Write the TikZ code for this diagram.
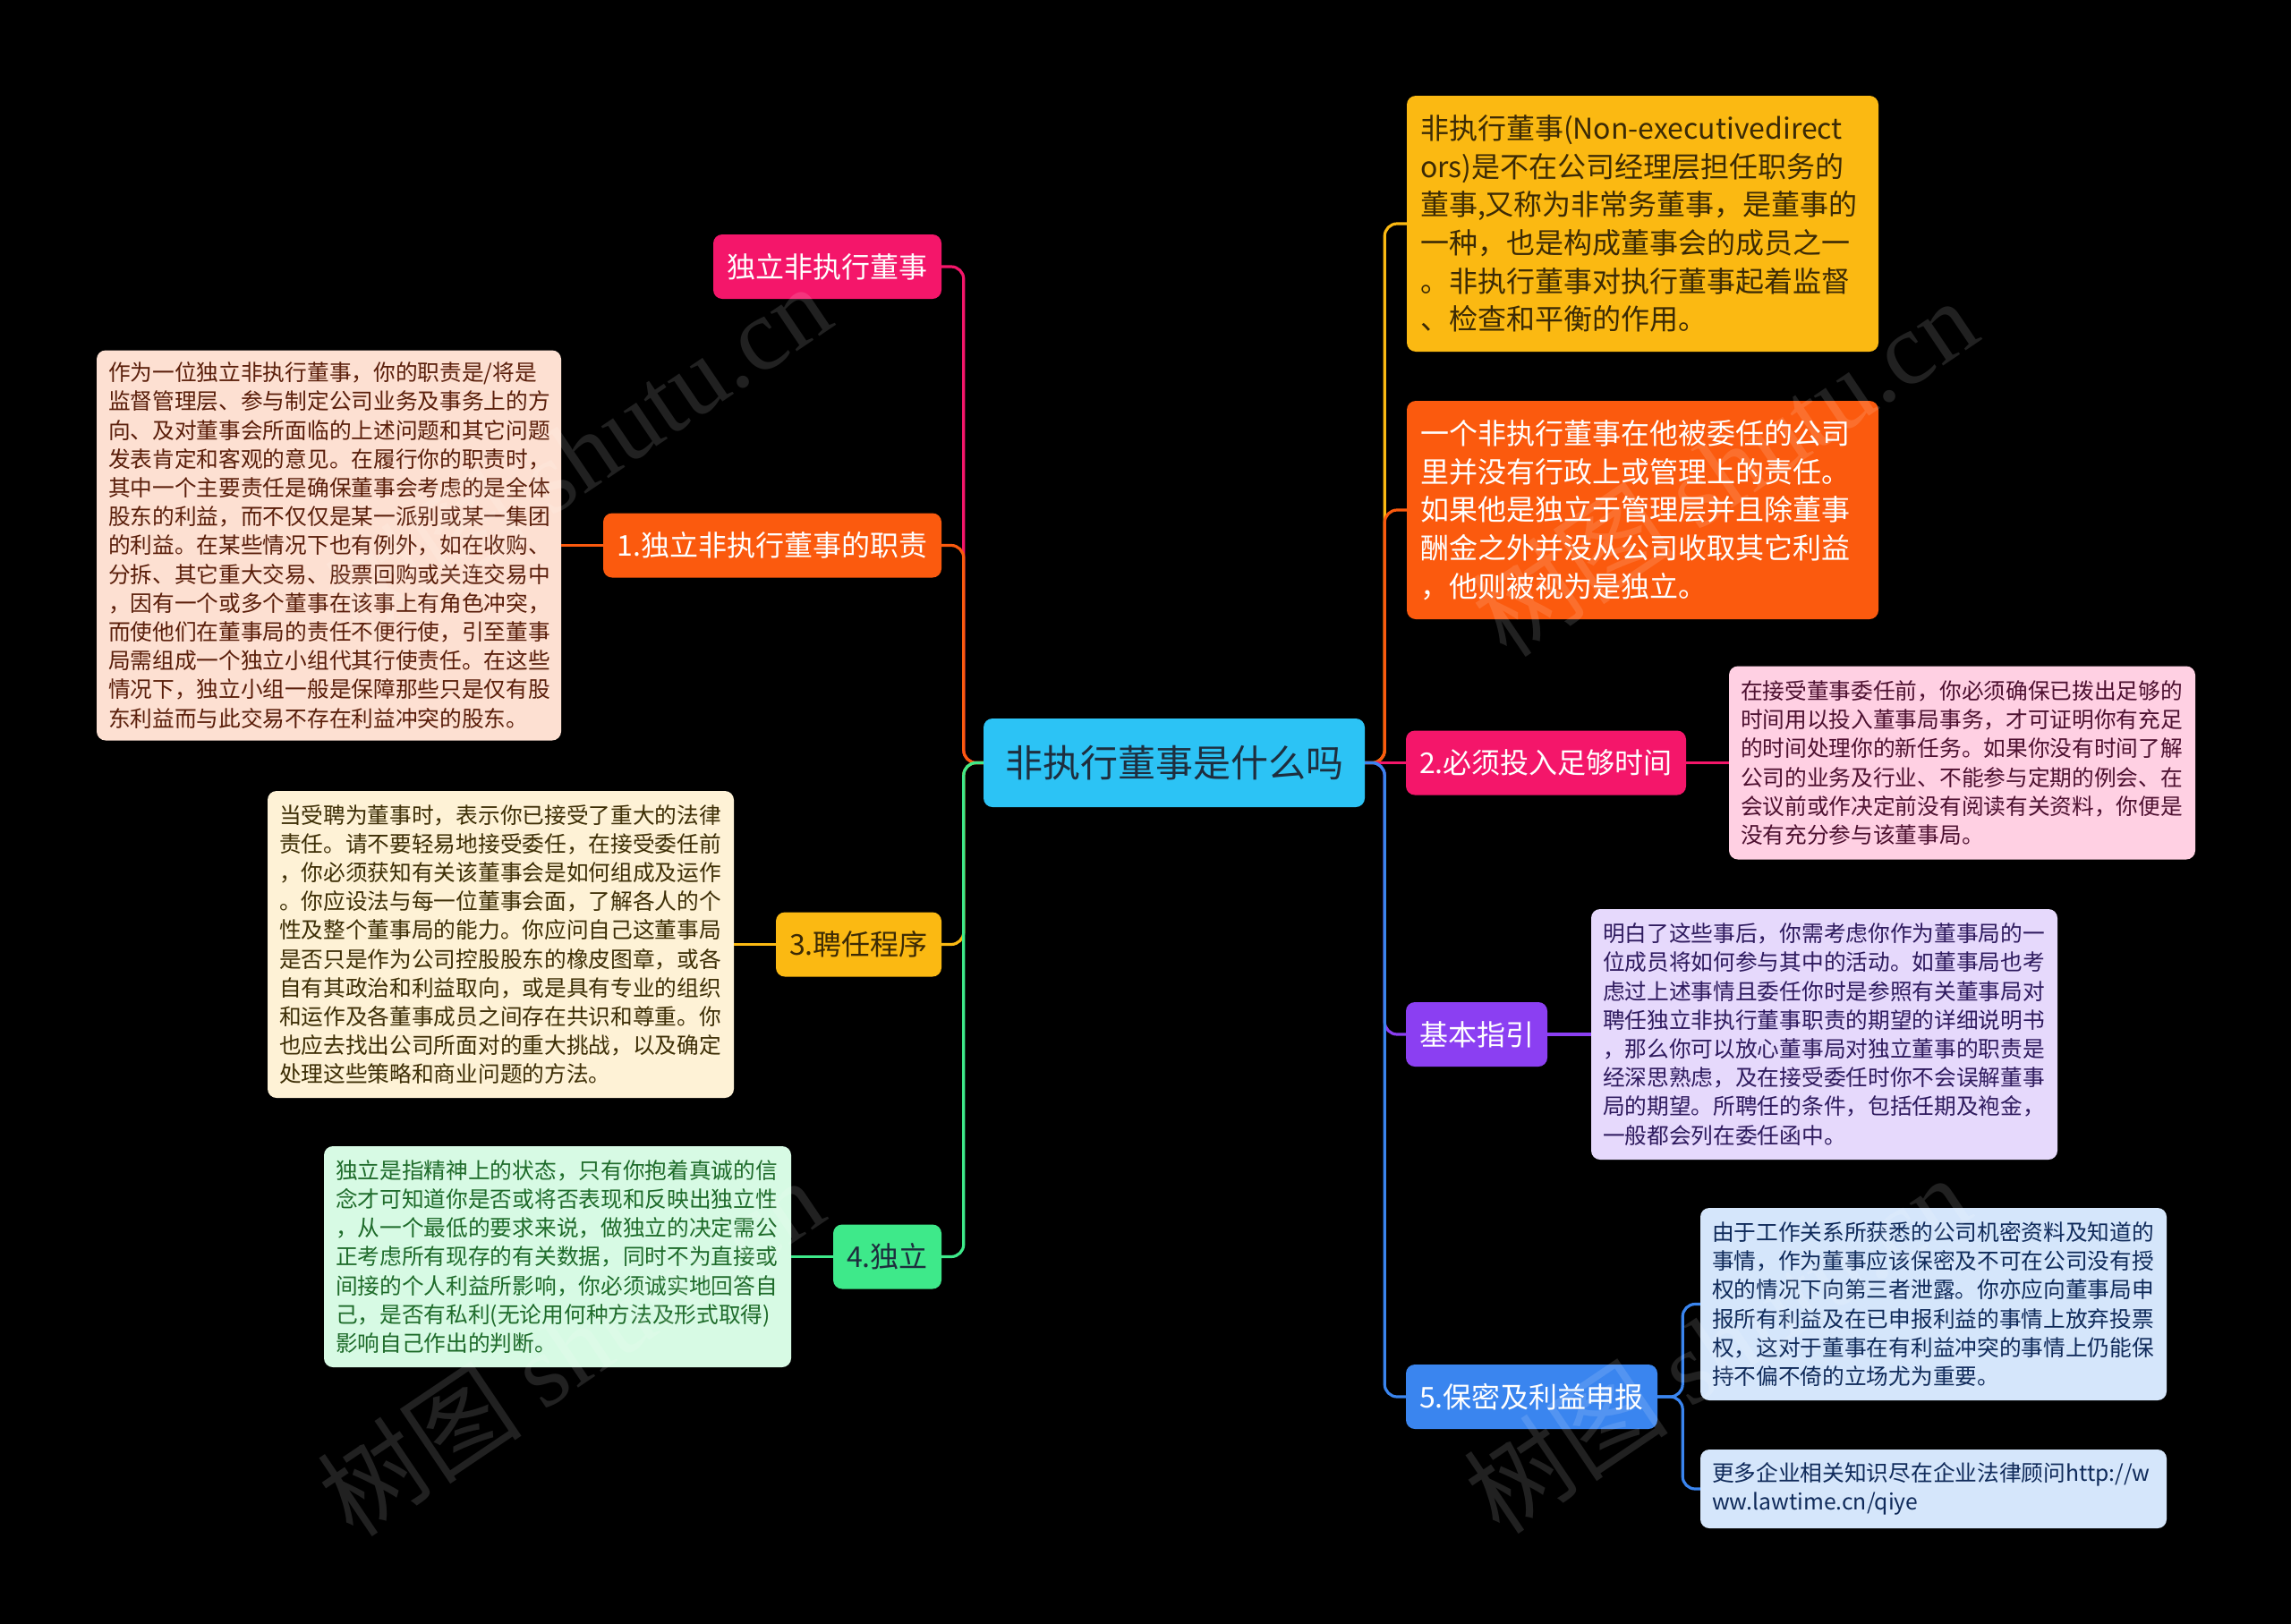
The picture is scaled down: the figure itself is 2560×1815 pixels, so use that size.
\documentclass[tikz,border=0pt]{standalone}
\usepackage{fontspec}
\setmainfont{Noto Sans CJK SC}
\newfontfamily\wmserif{Liberation Serif}
\newfontfamily\wmsans{Noto Sans CJK SC}

\definecolor{cCenter}{HTML}{2CC3F5}
\definecolor{cPink}{HTML}{F4166A}
\definecolor{cOrange}{HTML}{FB5A0E}
\definecolor{cYellow}{HTML}{FBB912}
\definecolor{cGreen}{HTML}{3EE98A}
\definecolor{cPurple}{HTML}{8B3FF2}
\definecolor{cBlue}{HTML}{3A85EF}
\definecolor{fPeach}{HTML}{FDE0D2}
\definecolor{fCream}{HTML}{FEF2D6}
\definecolor{fMint}{HTML}{D7FAE4}
\definecolor{fPinkL}{HTML}{FFD0E3}
\definecolor{fLav}{HTML}{E6D9FC}
\definecolor{fBlueL}{HTML}{D5E6FB}
\definecolor{tPeach}{HTML}{5A1E0A}
\definecolor{tCream}{HTML}{3D2E05}
\definecolor{tMint}{HTML}{1E6B2A}
\definecolor{tPinkL}{HTML}{4D1030}
\definecolor{tLav}{HTML}{2E1A5E}
\definecolor{tBlueL}{HTML}{0F2A5A}
\definecolor{tDark}{HTML}{3B2A05}
\definecolor{tCenter}{HTML}{1E2E3E}

\begin{document}
\begin{tikzpicture}[x=1pt,y=-1pt,
  mainnode/.style={rounded corners=10pt, inner sep=0pt, minimum height=72pt,
    font=\fontsize{32}{38}\selectfont},
  leafbox/.style={rounded corners=10pt, inner xsep=13pt, inner ysep=0pt, align=left,
    font=\fontsize{24.7}{32.2}\selectfont},
  bigbox/.style={rounded corners=10pt, inner xsep=15pt, inner ysep=0pt, align=left,
    font=\fontsize{32}{42.7}\selectfont},
  link/.style={line width=3.2pt, rounded corners=14pt},
  wm/.style={text=white, text opacity=0.13, rotate=34, inner sep=0pt}
]
\useasboundingbox (0,0) rectangle (2560,1815);
\fill[black] (0,0) rectangle (2560,1815);

% central
\node[rounded corners=10pt, inner sep=0pt, fill=cCenter, text=tCenter,
  minimum width=426pt, minimum height=99pt, font=\fontsize{42}{48}\selectfont]
  (c) at (1312,852.5) {非执行董事是什么吗};

% left level-1
\node[mainnode, fill=cPink, text=white, minimum width=255pt] (n0) at (924.5,298) {独立非执行董事};
\node[mainnode, fill=cOrange, text=white, minimum width=378pt] (n1) at (863,609.5) {1.独立非执行董事的职责};
\node[mainnode, fill=cYellow, text=tDark, minimum width=185pt] (n3) at (959.5,1055.5) {3.聘任程序};
\node[mainnode, fill=cGreen, text=tCenter, minimum width=121pt] (n4) at (991.5,1404.5) {4.独立};

% right level-1
\node[bigbox, fill=cYellow, text=tDark, text width=497pt, minimum height=286pt] (r1) at (1835.5,250) {非执行董事(Non-executivedirect\\ors)是不在公司经理层担任职务的\\董事,又称为非常务董事，是董事的\\一种，也是构成董事会的成员之一\\。非执行董事对执行董事起着监督\\、检查和平衡的作用。};
\node[bigbox, fill=cOrange, text=white, text width=497pt, minimum height=244pt] (r2) at (1835.5,570) {一个非执行董事在他被委任的公司\\里并没有行政上或管理上的责任。\\如果他是独立于管理层并且除董事\\酬金之外并没从公司收取其它利益\\，他则被视为是独立。};
\node[mainnode, fill=cPink, text=white, minimum width=313pt] (r3) at (1727.5,852.5) {2.必须投入足够时间};
\node[mainnode, fill=cPurple, text=white, minimum width=158pt] (r4) at (1650,1156) {基本指引};
\node[mainnode, fill=cBlue, text=white, minimum width=281pt] (r5) at (1711.5,1561) {5.保密及利益申报};

% left leaves
\node[leafbox, fill=fPeach, text=tPeach, text width=493pt, minimum height=436pt] (l1) at (367.5,609.5) {作为一位独立非执行董事，你的职责是/将是\\监督管理层、参与制定公司业务及事务上的方\\向、及对董事会所面临的上述问题和其它问题\\发表肯定和客观的意见。在履行你的职责时，\\其中一个主要责任是确保董事会考虑的是全体\\股东的利益，而不仅仅是某一派别或某一集团\\的利益。在某些情况下也有例外，如在收购、\\分拆、其它重大交易、股票回购或关连交易中\\，因有一个或多个董事在该事上有角色冲突，\\而使他们在董事局的责任不便行使，引至董事\\局需组成一个独立小组代其行使责任。在这些\\情况下，独立小组一般是保障那些只是仅有股\\东利益而与此交易不存在利益冲突的股东。};
\node[leafbox, fill=fCream, text=tCream, text width=495pt, minimum height=343pt] (l3) at (559.5,1055.5) {当受聘为董事时，表示你已接受了重大的法律\\责任。请不要轻易地接受委任，在接受委任前\\，你必须获知有关该董事会是如何组成及运作\\。你应设法与每一位董事会面，了解各人的个\\性及整个董事局的能力。你应问自己这董事局\\是否只是作为公司控股股东的橡皮图章，或各\\自有其政治和利益取向，或是具有专业的组织\\和运作及各董事成员之间存在共识和尊重。你\\也应去找出公司所面对的重大挑战，以及确定\\处理这些策略和商业问题的方法。};
\node[leafbox, fill=fMint, text=tMint, text width=496pt, minimum height=247pt] (l4) at (623,1404.5) {独立是指精神上的状态，只有你抱着真诚的信\\念才可知道你是否或将否表现和反映出独立性\\，从一个最低的要求来说，做独立的决定需公\\正考虑所有现存的有关数据，同时不为直接或\\间接的个人利益所影响，你必须诚实地回答自\\己，是否有私利(无论用何种方法及形式取得)\\影响自己作出的判断。};

% right leaves
\node[leafbox, fill=fPinkL, text=tPinkL, text width=495pt, minimum height=216pt] (p3) at (2192.5,852.5) {在接受董事委任前，你必须确保已拨出足够的\\时间用以投入董事局事务，才可证明你有充足\\的时间处理你的新任务。如果你没有时间了解\\公司的业务及行业、不能参与定期的例会、在\\会议前或作决定前没有阅读有关资料，你便是\\没有充分参与该董事局。};
\node[leafbox, fill=fLav, text=tLav, text width=495pt, minimum height=280pt] (p4) at (2038.5,1156) {明白了这些事后，你需考虑你作为董事局的一\\位成员将如何参与其中的活动。如董事局也考\\虑过上述事情且委任你时是参照有关董事局对\\聘任独立非执行董事职责的期望的详细说明书\\，那么你可以放心董事局对独立董事的职责是\\经深思熟虑，及在接受委任时你不会误解董事\\局的期望。所聘任的条件，包括任期及袍金，\\一般都会列在委任函中。};
\node[leafbox, fill=fBlueL, text=tBlueL, text width=495pt, minimum height=215pt] (p5a) at (2160.5,1457.5) {由于工作关系所获悉的公司机密资料及知道的\\事情，作为董事应该保密及不可在公司没有授\\权的情况下向第三者泄露。你亦应向董事局申\\报所有利益及在已申报利益的事情上放弃投票\\权，这对于董事在有利益冲突的事情上仍能保\\持不偏不倚的立场尤为重要。};
\node[leafbox, fill=fBlueL, text=tBlueL, text width=495pt, minimum height=88pt] (p5b) at (2160.5,1664) {更多企业相关知识尽在企业法律顾问http://w\\ww.lawtime.cn/qiye};

% connectors left
\draw[link, cPink] (c.west) -- ++(-22,0) |- (n0.east);
\draw[link, cOrange] (c.west) -- ++(-22,0) |- (n1.east);
\draw[link, cYellow] (c.west) -- ++(-22,0) |- (n3.east);
\draw[link, cGreen] (c.west) -- ++(-22,0) |- (n4.east);
% connectors right
\draw[link, cYellow] (c.east) -- ++(22,0) |- (r1.west);
\draw[link, cOrange] (c.east) -- ++(22,0) |- (r2.west);
\draw[link, cPink] (c.east) -- (r3.west);
\draw[link, cPurple] (c.east) -- ++(22,0) |- (r4.west);
\draw[link, cBlue] (c.east) -- ++(22,0) |- (r5.west);
% leaf connectors
\draw[link, cOrange] (n1.west) -- (l1.east);
\draw[link, cYellow] (n3.west) -- (l3.east);
\draw[link, cGreen] (n4.west) -- (l4.east);
\draw[link, cPink] (r3.east) -- (p3.west);
\draw[link, cPurple] (r4.east) -- (p4.west);
\draw[link, cBlue] (r5.east) -- ++(28,0) |- (p5a.west);
\draw[link, cBlue] (r5.east) -- ++(28,0) |- (p5b.west);

% watermarks
\node[wm] (w1) at (645,506) {\fontsize{115}{115}\selectfont\wmsans 树图 \wmserif shutu.cn};
\node[wm] (w2) at (637,1505) {\fontsize{115}{115}\selectfont\wmsans 树图 \wmserif shutu.cn};
\node[wm] (w3) at (1926,522) {\fontsize{115}{115}\selectfont\wmsans 树图 \wmserif shutu.cn};
\node[wm] (w4) at (1918,1502) {\fontsize{115}{115}\selectfont\wmsans 树图 \wmserif shutu.cn};
\end{tikzpicture}
\end{document}
